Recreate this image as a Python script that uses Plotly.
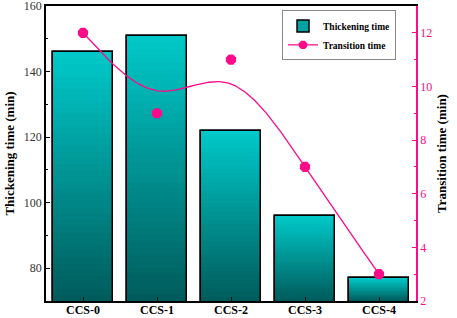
import numpy as np
import plotly.graph_objects as go

# ---- data ----
categories = ["CCS-0", "CCS-1", "CCS-2", "CCS-3", "CCS-4"]
thickening_time = [146, 151, 122, 96, 77]      # min, left axis
transition_time = [12, 9, 11, 7, 3]            # min, right axis

PINK = "#FF0A88"
TOP_C = np.array([0x00, 0xC8, 0xC8])
BOT_C = np.array([0x00, 0x5C, 0x5C])
FONT = "Liberation Serif"
Y_MIN, Y_MAX = 70, 160

xpos = np.arange(len(categories), dtype=float)


def smoothing_spline(x, y, w, lam, xs):
    """Weighted cubic smoothing spline (Reinsch), evaluated at xs."""
    x = np.asarray(x, float); y = np.asarray(y, float); w = np.asarray(w, float)
    n = len(x); h = np.diff(x)
    Q = np.zeros((n, n - 2)); R = np.zeros((n - 2, n - 2))
    for j in range(1, n - 1):
        Q[j - 1, j - 1] = 1 / h[j - 1]
        Q[j, j - 1] = -1 / h[j - 1] - 1 / h[j]
        Q[j + 1, j - 1] = 1 / h[j]
        R[j - 1, j - 1] = (h[j - 1] + h[j]) / 3
        if j < n - 2:
            R[j - 1, j] = R[j, j - 1] = h[j] / 6
    Winv = np.diag(1 / w)
    gam = np.linalg.solve(R + lam * Q.T @ Winv @ Q, Q.T @ y)
    f = y - lam * Winv @ Q @ gam
    g = np.concatenate([[0], gam, [0]])
    out = []
    for xv in xs:
        i = min(max(np.searchsorted(x, xv) - 1, 0), n - 2)
        a = xv - x[i]; b = x[i + 1] - xv; hi = h[i]
        val = (b * f[i] + a * f[i + 1]) / hi - a * b / 6 * ((1 + a / hi) * g[i + 1] + (1 + b / hi) * g[i])
        out.append(val)
    return np.array(out)


fig = go.Figure()

BAR_W = 0.8
# base bar (legend swatch + mid colour)
fig.add_trace(go.Bar(
    x=xpos, y=thickening_time, width=BAR_W, name="Thickening time",
    marker=dict(color="#00A2A2", line=dict(color="black", width=1.5)),
    showlegend=True,
))
# vertical gradient: stacked overlay layers
N = 40
tt = np.array(thickening_time, float)
for k in range(N):
    frac = (N - k) / N
    c = TOP_C + (BOT_C - TOP_C) * (k / (N - 1))
    col = "rgb(%d,%d,%d)" % tuple(c.round().astype(int))
    fig.add_trace(go.Bar(
        x=xpos, y=Y_MIN + (tt - Y_MIN) * frac, width=BAR_W,
        marker=dict(color=col, line=dict(width=0)),
        showlegend=False, hoverinfo="skip",
    ))
# outline on top
fig.add_trace(go.Bar(
    x=xpos, y=thickening_time, width=BAR_W,
    marker=dict(color="rgba(0,0,0,0)", line=dict(color="black", width=1.5)),
    showlegend=False, hoverinfo="skip",
))

# smoothed connecting curve for transition time
xs = np.linspace(xpos[0], xpos[-1], 300)
ys = smoothing_spline(xpos, transition_time, [1e5, 1, 1, 1e5, 1e5], 0.05, xs)
fig.add_trace(go.Scatter(
    x=xs, y=ys, yaxis="y2", mode="lines",
    line=dict(color=PINK, width=1.3), showlegend=False, hoverinfo="skip",
))
fig.add_trace(go.Scatter(
    x=xpos, y=transition_time, yaxis="y2", mode="markers",
    marker=dict(color=PINK, size=11, symbol="octagon"),
    showlegend=False,
))
# legend entry
fig.add_trace(go.Scatter(
    x=[None], y=[None], yaxis="y2", mode="lines+markers", name="Transition time",
    line=dict(color=PINK, width=1.3),
    marker=dict(color=PINK, size=9, symbol="octagon"),
))

fig.update_layout(
    width=457, height=318,
    margin=dict(l=46, r=41, t=6, b=17),
    barmode="overlay", bargap=0,
    plot_bgcolor="white", paper_bgcolor="white",
    font=dict(family=FONT, size=12, color="black"),
    xaxis=dict(
        range=[-0.5, 4.5], tickvals=xpos, ticktext=categories,
        showline=True, linecolor="black", linewidth=1.5, mirror=True,
        ticks="inside", ticklen=4, tickcolor="black", tickwidth=1,
        tickfont=dict(family=FONT, size=12, color="black", weight="bold"),
        ticklabelstandoff=-3,
        showgrid=False, zeroline=False, automargin=False,
    ),
    yaxis=dict(
        range=[Y_MIN, Y_MAX + 0.001], dtick=20, tick0=0,
        showline=True, linecolor="black", linewidth=1.5,
        ticks="inside", ticklen=4, tickcolor="black",
        minor=dict(dtick=10, ticks="inside", ticklen=2, tickcolor="black"),
        tickfont=dict(family=FONT, size=12, color="#333333"),
        ticklabeloverflow="allow",
        title=dict(text="Thickening time (min)", font=dict(family=FONT, size=13, weight="bold"), standoff=6),
        showgrid=False, zeroline=False, automargin=False,
    ),
    yaxis2=dict(
        overlaying="y", side="right", range=[2, 13], dtick=2, tick0=0,
        showline=True, linecolor=PINK, linewidth=1.5,
        ticks="inside", ticklen=4, tickcolor=PINK,
        minor=dict(dtick=1, ticks="inside", ticklen=2, tickcolor=PINK),
        tickfont=dict(family=FONT, size=12, color=PINK),
        ticklabeloverflow="allow",
        title=dict(text="Transition time (min)", font=dict(family=FONT, size=13, weight="bold", color="black"), standoff=6),
        showgrid=False, zeroline=False, automargin=False,
    ),
    legend=dict(
        x=0.946, y=0.985, xanchor="right", yanchor="top",
        bgcolor="white", bordercolor="#888888", borderwidth=1,
        font=dict(family=FONT, size=9.5, weight="bold"),
        tracegroupgap=0, itemwidth=30,
    ),
)

fig.write_html("out.html", config={"displayModeBar": False},
               post_script="document.body.style.margin='0';")
